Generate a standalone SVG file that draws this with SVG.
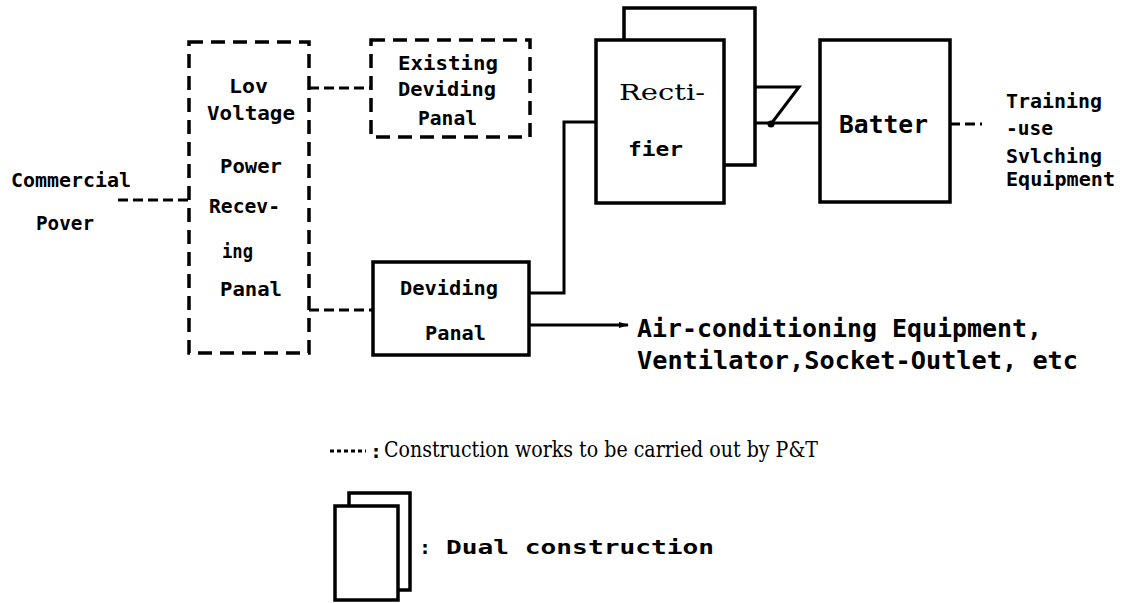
<svg xmlns="http://www.w3.org/2000/svg" width="1125" height="603" viewBox="0 0 1125 603">
<defs>
<style>
.box{fill:#fff;stroke:#000;stroke-width:3.5}
.dbox{fill:none;stroke:#000;stroke-width:3.5;stroke-dasharray:14 8}
.wire{fill:none;stroke:#000;stroke-width:3}
.dwire{fill:none;stroke:#000;stroke-width:3;stroke-dasharray:10 5}
.lbl{font-family:"DejaVu Sans Mono","Liberation Mono",monospace;font-weight:bold;font-size:20px;fill:#000}
.big{font-size:24px}
.ser{font-family:"DejaVu Serif","Liberation Serif",serif;font-weight:normal;font-size:22px;fill:#000}
</style>
<marker id="arr" markerWidth="10" markerHeight="8" refX="9" refY="4" orient="auto" markerUnits="userSpaceOnUse">
<path d="M0,1 L10,4 L0,7 Z" fill="#000"/>
</marker>
</defs>
<rect width="1125" height="603" fill="#fff"/>

<g id="connectors">
<path class="dwire" d="M118,200 H189"/>
<path class="dwire" d="M309,88 H371"/>
<path class="dwire" d="M309,310 H373"/>
<path class="wire" d="M529,293 H564 V122 H596"/>
<path class="wire" d="M529,325 H628" marker-end="url(#arr)"/>
<path class="wire" d="M724,123 H820"/>
<path class="wire" d="M755,87 H799 L771,124"/>
<circle cx="771" cy="124" r="3.5" fill="#000"/>
<path class="dwire" d="M950,124 H982"/>
</g>

<g id="commercial-power">
<text class="lbl" x="11" y="187" textLength="120" lengthAdjust="spacingAndGlyphs">Commercial</text>
<text class="lbl" x="36" y="230" textLength="58" lengthAdjust="spacingAndGlyphs">Pover</text>
</g>

<g id="low-voltage-panel">
<rect class="dbox" x="189" y="42" width="120" height="311"/>
<text class="lbl" x="229" y="93" textLength="39" lengthAdjust="spacingAndGlyphs">Lov</text>
<text class="lbl" x="207" y="120" textLength="88" lengthAdjust="spacingAndGlyphs">Voltage</text>
<text class="lbl" x="220" y="173" textLength="62" lengthAdjust="spacingAndGlyphs">Power</text>
<text class="lbl" x="209" y="213" textLength="71" lengthAdjust="spacingAndGlyphs">Recev-</text>
<text class="lbl" x="222" y="258" textLength="31" lengthAdjust="spacingAndGlyphs">ing</text>
<text class="lbl" x="220" y="296" textLength="62" lengthAdjust="spacingAndGlyphs">Panal</text>
</g>

<g id="existing-panel">
<rect class="dbox" x="371" y="40" width="159" height="97"/>
<text class="lbl" x="398" y="70" textLength="100" lengthAdjust="spacingAndGlyphs">Existing</text>
<text class="lbl" x="398" y="96" textLength="98" lengthAdjust="spacingAndGlyphs">Deviding</text>
<text class="lbl" x="418" y="125" textLength="59" lengthAdjust="spacingAndGlyphs">Panal</text>
</g>

<g id="deviding-panel">
<rect class="box" x="373" y="262" width="156" height="93"/>
<text class="lbl" x="400" y="295" textLength="98" lengthAdjust="spacingAndGlyphs">Deviding</text>
<text class="lbl" x="425" y="340" textLength="61" lengthAdjust="spacingAndGlyphs">Panal</text>
</g>

<g id="rectifier">
<rect class="box" x="624" y="8" width="131" height="157"/>
<rect class="box" x="596" y="40" width="128" height="163"/>
<text class="ser" x="619" y="100" font-size="25" textLength="86" lengthAdjust="spacingAndGlyphs">Recti-</text>
<text class="lbl" x="628" y="156" textLength="55" lengthAdjust="spacingAndGlyphs" font-size="22">fier</text>
</g>

<g id="battery">
<rect class="box" x="820" y="40" width="130" height="162"/>
<text class="lbl big" x="839" y="133" textLength="89" lengthAdjust="spacingAndGlyphs">Batter</text>
</g>

<g id="switching-equipment">
<text class="lbl" x="1006" y="108" textLength="96" lengthAdjust="spacingAndGlyphs">Training</text>
<text class="lbl" x="1006" y="135" textLength="47" lengthAdjust="spacingAndGlyphs">-use</text>
<text class="lbl" x="1006" y="163" textLength="96" lengthAdjust="spacingAndGlyphs">Svlching</text>
<text class="lbl" x="1006" y="186" textLength="109" lengthAdjust="spacingAndGlyphs">Equipment</text>
</g>

<g id="air-conditioning">
<text class="lbl big" x="637" y="337" textLength="405" lengthAdjust="spacingAndGlyphs">Air-conditioning Equipment,</text>
<text class="lbl big" x="637" y="369" textLength="441" lengthAdjust="spacingAndGlyphs">Ventilator,Socket-Outlet, etc</text>
</g>

<g id="legend-dashed">
<path d="M330,451 H366" fill="none" stroke="#000" stroke-width="3" stroke-dasharray="4 3"/>
<text class="lbl" x="370" y="458" font-size="22">:</text>
<text class="ser" x="384" y="457" font-size="17" textLength="434" lengthAdjust="spacingAndGlyphs">Construction works to be carried out by P&amp;T</text>
</g>

<g id="legend-dual">
<rect class="box" x="349" y="493" width="61" height="97"/>
<rect class="box" x="335" y="506" width="63" height="94"/>
<text class="lbl" x="419" y="554" font-size="22">:</text>
<text class="lbl" x="446" y="554" font-size="21" textLength="268" lengthAdjust="spacingAndGlyphs">Dual construction</text>
</g>
</svg>
